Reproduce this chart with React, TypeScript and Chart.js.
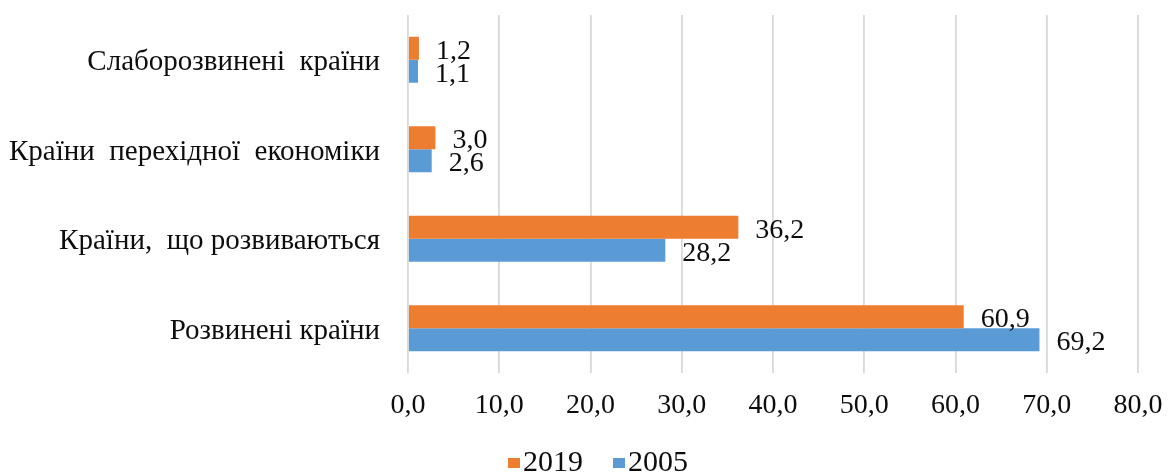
import React, { useEffect, useRef } from "react";
import { Chart, registerables } from "chart.js";

Chart.register(...registerables);

const categories = [
  "Слаборозвинені  країни",
  "Країни  перехідної  економіки",
  "Країни,  що розвиваються",
  "Розвинені країни",
];
const seriesNames = ["2019", "2005"];
const series2019 = [1.2, 3.0, 36.2, 60.9];
const series2005 = [1.1, 2.6, 28.2, 69.2];
const xTicks = [0, 10, 20, 30, 40, 50, 60, 70, 80];
const colors = ["#ED7D31", "#5B9BD5"];

const FONT = "'Liberation Serif', 'Times New Roman', serif";
const TEXT = "#0d0d0d";

const fmt = (v: number) => v.toFixed(1).replace(".", ",");

const labelPlugin = {
  id: "barLabels",
  afterDatasetsDraw(chart: any) {
    const ctx = chart.ctx;
    ctx.save();
    ctx.font = `28px ${FONT}`;
    ctx.fillStyle = TEXT;
    ctx.textAlign = "left";
    ctx.textBaseline = "middle";
    chart.data.datasets.forEach((ds: any, di: number) => {
      const meta = chart.getDatasetMeta(di);
      meta.data.forEach((bar: any, i: number) => {
        ctx.fillText(fmt(ds.data[i]), bar.x + 17, bar.y + 3);
      });
    });
    ctx.restore();
  },
};

const legendPlugin = {
  id: "customLegend",
  afterDraw(chart: any) {
    const ctx = chart.ctx;
    ctx.save();
    ctx.font = `30px ${FONT}`;
    ctx.textBaseline = "alphabetic";
    ctx.textAlign = "left";
    const box = 12;
    const boxH = 10;
    const gapBox = 3;
    const gapItem = 30;
    const widths = seriesNames.map((n) => ctx.measureText(n).width);
    const total =
      widths.reduce((a, b) => a + b, 0) + seriesNames.length * (box + gapBox) + gapItem * (seriesNames.length - 1);
    let x = chart.width / 2 + 14 - total / 2;
    const baseline = chart.height - 5;
    seriesNames.forEach((n, i) => {
      ctx.fillStyle = colors[i];
      ctx.fillRect(x, baseline - 13, box, boxH);
      x += box + gapBox;
      ctx.fillStyle = TEXT;
      ctx.fillText(n, x, baseline);
      x += widths[i] + gapItem;
    });
    ctx.restore();
  },
};

export default function App() {
  const ref = useRef<HTMLCanvasElement | null>(null);
  useEffect(() => {
    document.body.style.margin = "0";
    const chart = new Chart(ref.current as HTMLCanvasElement, {
      type: "bar",
      data: {
        labels: categories,
        datasets: [
          {
            label: seriesNames[0],
            data: series2019,
            backgroundColor: colors[0],
            borderWidth: 0,
            categoryPercentage: 0.514,
            barPercentage: 1,
          },
          {
            label: seriesNames[1],
            data: series2005,
            backgroundColor: colors[1],
            borderWidth: 0,
            categoryPercentage: 0.514,
            barPercentage: 1,
          },
        ],
      },
      options: {
        indexAxis: "y",
        animation: false,
        responsive: false,
        maintainAspectRatio: false,
        layout: { padding: { top: 15, right: 30, left: 0, bottom: 43 } },
        scales: {
          x: {
            min: 0,
            max: 80,
            afterBuildTicks: (scale: any) => {
              scale.ticks = xTicks.map((v) => ({ value: v }));
            },
            afterFit: (scale: any) => {
              scale.height = 60;
              scale.paddingLeft = 0;
              scale.paddingRight = 0;
            },
            grid: { color: "#d9d9d9", lineWidth: 1.8, drawTicks: false },
            border: { display: false },
            ticks: {
              padding: 16,
              color: TEXT,
              font: { family: FONT, size: 28 },
              callback: (v: any) => fmt(Number(v)),
            },
          },
          y: {
            afterFit: (scale: any) => {
              scale.width = 408;
              scale.paddingTop = 0;
              scale.paddingBottom = 0;
            },
            grid: { display: false, drawTicks: false },
            border: { display: false },
            ticks: {
              padding: 28,
              labelOffset: 3,
              color: TEXT,
              font: { family: FONT, size: 29 },
            },
          },
        },
        plugins: {
          legend: { display: false },
          tooltip: { enabled: false },
        },
      },
      plugins: [labelPlugin, legendPlugin],
    } as any);
    return () => chart.destroy();
  }, []);
  return <canvas ref={ref} width={1168} height={476} style={{ display: "block" }} />;
}
